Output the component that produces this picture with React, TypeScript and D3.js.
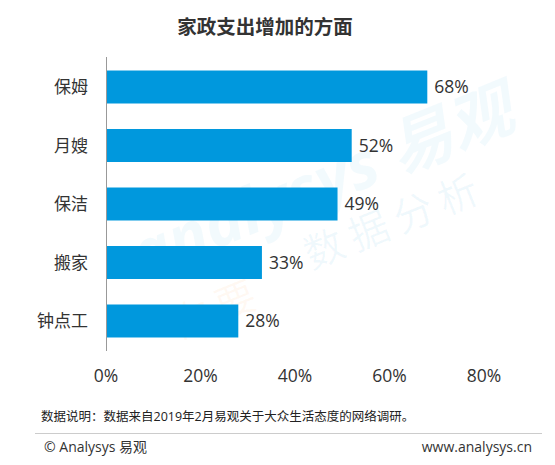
import React, { useEffect, useRef } from 'react';
import * as d3 from 'd3';

const categories = ['保姆', '月嫂', '保洁', '搬家', '钟点工'];
const values = [68, 52, 49, 33, 28];
const ticks = [0, 20, 40, 60, 80];

const title = '家政支出增加的方面';
const note = '数据说明：数据来自2019年2月易观关于大众生活态度的网络调研。';

const FONT = '"Open Sans", "Noto Sans CJK SC", sans-serif';

const App: React.FC = () => {
  const svgRef = useRef<SVGSVGElement>(null);

  useEffect(() => {
    if (!svgRef.current) return;
    const width = 555;
    const height = 465;
    const left = 106;
    const top = 57;
    const plotBottom = 351;

    const svg = d3.select(svgRef.current)
      .attr('width', width)
      .attr('height', height)
      .html('');

    svg.append('rect').attr('width', width).attr('height', height).attr('fill', '#fff');

    // faint watermark
    const wm = svg.append('g').attr('transform', 'translate(300, 215) rotate(-22)');
    wm.append('text')
      .attr('x', -170).attr('y', 0)
      .attr('font-family', FONT)
      .attr('font-size', 64)
      .attr('font-weight', 700)
      .attr('font-style', 'italic')
      .attr('fill', 'rgba(0,152,222,0.05)')
      .text('analysys 易观');
    wm.append('text')
      .attr('x', -10).attr('y', 55)
      .attr('font-family', FONT)
      .attr('font-size', 40)
      .attr('letter-spacing', 8)
      .attr('fill', 'rgba(0,152,222,0.06)')
      .text('数据分析');
    wm.append('text')
      .attr('x', -160).attr('y', 70)
      .attr('font-family', FONT)
      .attr('font-size', 40)
      .attr('letter-spacing', 8)
      .attr('fill', 'rgba(255,150,60,0.06)')
      .text('你要');

    const x = d3.scaleLinear().domain([0, 80]).range([left, 484]);
    const y = d3.scaleBand<string>()
      .domain(categories)
      .range([top, plotBottom])
      .paddingInner(0.436)
      .paddingOuter(0.231);

    // title
    svg.append('text')
      .attr('x', 265).attr('y', 34)
      .attr('text-anchor', 'middle')
      .attr('font-family', FONT)
      .attr('font-size', 19.5)
      .attr('font-weight', 700)
      .attr('fill', '#333')
      .text(title);

    const data = categories.map((c, i) => ({ name: c, value: values[i] }));

    svg.selectAll('.bar')
      .data(data)
      .enter().append('rect')
      .attr('x', x(0))
      .attr('y', d => y(d.name)!)
      .attr('width', d => x(d.value) - x(0))
      .attr('height', y.bandwidth())
      .attr('fill', '#0098dd');

    svg.selectAll('.val')
      .data(data)
      .enter().append('text')
      .attr('x', d => x(d.value) + 7)
      .attr('y', d => y(d.name)! + y.bandwidth() / 2)
      .attr('dy', '0.36em')
      .attr('font-family', FONT)
      .attr('font-size', 17.5)
      .attr('fill', '#333')
      .text(d => `${d.value}%`);

    svg.selectAll('.cat')
      .data(data)
      .enter().append('text')
      .attr('x', 88)
      .attr('y', d => y(d.name)! + y.bandwidth() / 2)
      .attr('dy', '0.36em')
      .attr('text-anchor', 'end')
      .attr('font-family', FONT)
      .attr('font-size', 17)
      .attr('fill', '#333')
      .text(d => d.name);

    // axis line
    svg.append('line')
      .attr('x1', x(0) + 0.5).attr('x2', x(0) + 0.5)
      .attr('y1', top).attr('y2', plotBottom)
      .attr('stroke', '#999')
      .attr('stroke-width', 1);

    svg.selectAll('.tick')
      .data(ticks)
      .enter().append('text')
      .attr('x', d => x(d))
      .attr('y', 382)
      .attr('text-anchor', 'middle')
      .attr('font-family', FONT)
      .attr('font-size', 17.5)
      .attr('fill', '#333')
      .text(d => `${d}%`);

    // footer
    svg.append('text')
      .attr('x', 41).attr('y', 421)
      .attr('font-family', FONT)
      .attr('font-size', 12.5)
      .attr('fill', '#222')
      .text(note);

    svg.append('line')
      .attr('x1', 35).attr('x2', 542)
      .attr('y1', 433.5).attr('y2', 433.5)
      .attr('stroke', '#ccc');

    svg.append('text')
      .attr('x', 44).attr('y', 452)
      .attr('font-family', FONT)
      .attr('font-size', 14)
      .attr('fill', '#333')
      .text('© Analysys 易观');

    svg.append('text')
      .attr('x', 532).attr('y', 452)
      .attr('text-anchor', 'end')
      .attr('font-family', FONT)
      .attr('font-size', 14)
      .attr('fill', '#333')
      .text('www.analysys.cn');
  }, []);

  return <svg ref={svgRef} style={{ position: 'absolute', left: 0, top: 0, display: 'block' }}></svg>;
};

export default App;
